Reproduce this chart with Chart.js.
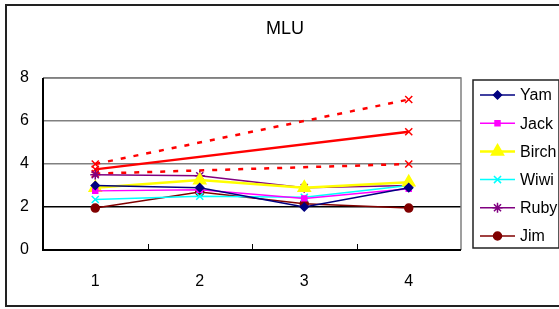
<!DOCTYPE html>
<html><head><meta charset="utf-8">
<script src="https://cdn.jsdelivr.net/npm/chart.js@4/dist/chart.umd.min.js"></script>
<style>html,body{margin:0;padding:0;background:#fff;}#wrap{width:559px;height:309px;position:relative;}</style>
</head><body><div id="wrap"><canvas id="c" width="559" height="309"></canvas></div>
<script>
const categories = ['1', '2', '3', '4'];
const titleText = 'MLU';
const yam   = [3.0, 2.9, 2.0, 2.9];
const jack  = [2.75, 2.8, 2.4, 2.85];
const birch = [2.9, 3.25, 2.9, 3.15];
const wiwi  = [2.35, 2.5, 2.45, 3.0];
const ruby  = [3.5, 3.45, 2.9, 3.0];
const jim   = [1.95, 2.7, 2.15, 1.95];
const redSolid  = [3.75, null, null, 5.5];
const redTop    = [4.0, null, null, 7.0];
const redBottom = [3.55, null, null, 4.0];
const yTicks = [0, 2, 4, 6, 8];

const FONT = 'Liberation Sans, Arial, sans-serif';

function series(label, data, color, style, radius, width, legend) {
  return { label, data, borderColor: color, backgroundColor: color, pointStyle: style,
    pointRadius: radius, pointHoverRadius: radius, borderWidth: width, pointBorderWidth: 1.5,
    tension: 0, spanGaps: true, fill: false, inLegend: legend };
}
const datasets = [
  series('Yam', yam, '#000080', 'rectRot', 4, 1.5, true),
  series('Jack', jack, '#FF00FF', 'rect', 3.5, 1.5, true),
  series('Birch', birch, '#FFFF00', 'triangle', 7, 2.5, true),
  series('Wiwi', wiwi, '#00FFFF', 'crossRot', 5, 1.5, true),
  series('Ruby', ruby, '#800080', 'star', 5, 1.5, true),
  series('Jim', jim, '#800000', 'circle', 4, 1.5, true),
  series('', redSolid, '#FF0000', 'crossRot', 5, 2.5, false),
  Object.assign(series('', redTop, '#FF0000', 'crossRot', 5, 2.5, false), {borderDash: [5, 8]}),
  Object.assign(series('', redBottom, '#FF0000', 'crossRot', 5, 2.5, false), {borderDash: [5, 8]})
];

const deco = {
  id: 'deco',
  beforeDraw(chart) {
    const ctx = chart.ctx;
    ctx.save();
    ctx.fillStyle = '#fff';
    ctx.fillRect(0, 0, chart.width, chart.height);
    ctx.strokeStyle = '#222';
    ctx.lineWidth = 2;
    ctx.strokeRect(6, 5, chart.width + 10, 301);
    ctx.restore();
  },
  beforeDatasetsDraw(chart) {
    const ctx = chart.ctx, a = chart.chartArea;
    ctx.save();
    ctx.strokeStyle = '#808080';
    ctx.lineWidth = 1.5;
    ctx.beginPath();
    ctx.moveTo(a.left, a.top); ctx.lineTo(a.right, a.top); ctx.lineTo(a.right, a.bottom);
    ctx.stroke();
    // inward x tick marks at category boundaries
    const xs = chart.scales.x;
    ctx.strokeStyle = '#000';
    ctx.lineWidth = 1;
    for (let i = 1; i < categories.length; i++) {
      const x = Math.round((xs.getPixelForTick(i - 1) + xs.getPixelForTick(i)) / 2) + 0.5;
      ctx.beginPath(); ctx.moveTo(x, a.bottom); ctx.lineTo(x, a.bottom - 6); ctx.stroke();
    }
    ctx.restore();
  },
  afterDraw(chart) {
    const ctx = chart.ctx, a = chart.chartArea;
    ctx.save();
    // title
    ctx.fillStyle = '#000';
    ctx.font = '18px ' + FONT;
    ctx.textAlign = 'center';
    ctx.textBaseline = 'middle';
    ctx.fillText(titleText, 285, 29);
    // legend
    const items = chart.data.datasets.filter(d => d.inLegend);
    const lx = 473, ly = 80, lw = 86, lh = 168;
    ctx.strokeStyle = '#222';
    ctx.lineWidth = 1.5;
    ctx.strokeRect(lx, ly, lw, lh);
    ctx.font = '16px ' + FONT;
    ctx.textAlign = 'left';
    items.forEach((d, i) => {
      const y = ly + 15 + i * 28.2;
      ctx.strokeStyle = d.borderColor;
      ctx.lineWidth = d.borderWidth;
      ctx.beginPath(); ctx.moveTo(lx + 7, y); ctx.lineTo(lx + 42, y); ctx.stroke();
      if (Chart.helpers && Chart.helpers.drawPoint) {
        ctx.fillStyle = d.backgroundColor;
        ctx.strokeStyle = d.borderColor;
        ctx.lineWidth = 1.5;
        Chart.helpers.drawPoint(ctx, {pointStyle: d.pointStyle, radius: d.pointRadius, rotation: 0, borderWidth: 1.5}, lx + 24.5, y);
      }
      ctx.fillStyle = '#000';
      ctx.fillText(d.label, lx + 47, y + 1);
    });
    // axes on top
    ctx.strokeStyle = '#000';
    ctx.lineWidth = 2;
    ctx.beginPath();
    ctx.moveTo(a.left, a.top); ctx.lineTo(a.left, a.bottom); ctx.lineTo(a.right, a.bottom);
    ctx.stroke();
    ctx.restore();
  }
};

new Chart(document.getElementById('c'), {
  type: 'line',
  data: { labels: categories, datasets },
  options: {
    responsive: false,
    animation: false,
    devicePixelRatio: 1,
    layout: { padding: { left: 0, top: 78, right: 98, bottom: 0 } },
    plugins: { legend: { display: false }, title: { display: false }, tooltip: { enabled: false } },
    scales: {
      x: {
        offset: true,
        grid: { display: false, drawTicks: false },
        border: { display: false },
        ticks: { color: '#000', font: { family: FONT, size: 16 }, padding: 22 },
        afterFit(s) { s.height = 59; }
      },
      y: {
        min: 0, max: 8,
        afterBuildTicks(s) { s.ticks = yTicks.map(v => ({ value: v })); },
        grid: { drawTicks: false, lineWidth: 1.5,
          color: c => (c.tick && c.tick.value === 2) ? '#000' : '#808080' },
        border: { display: false },
        ticks: { color: '#000', font: { family: FONT, size: 16 }, padding: 14 },
        afterFit(s) { s.width = 43; }
      }
    }
  },
  plugins: [deco]
});
</script>
</body></html>
